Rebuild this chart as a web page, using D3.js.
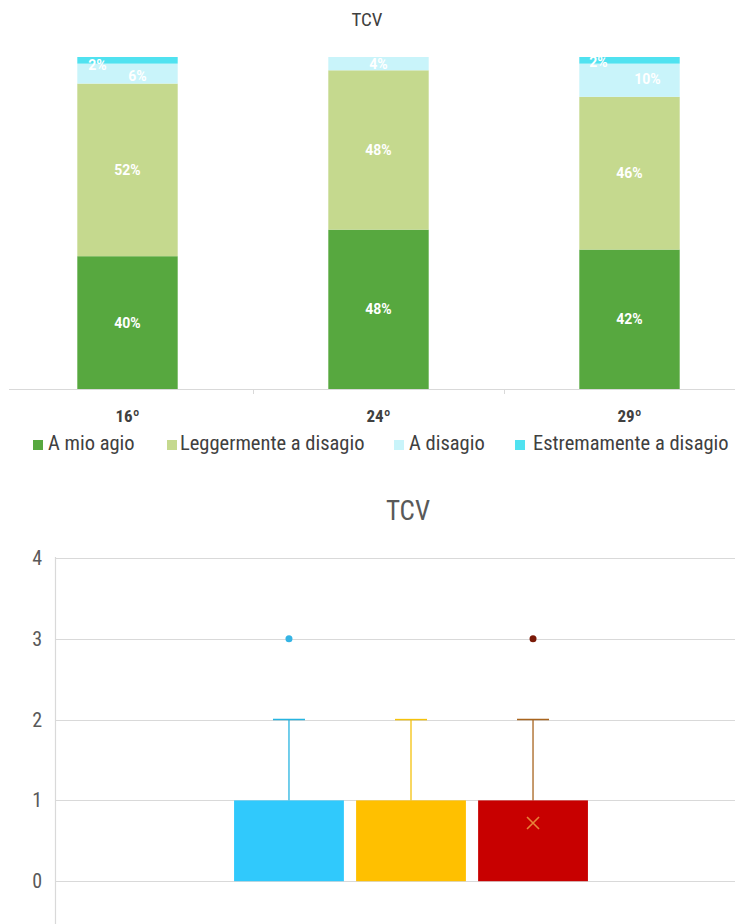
<!DOCTYPE html>
<html><head><meta charset="utf-8">
<script src="https://cdn.jsdelivr.net/npm/d3@7"></script>
<style>
html,body{margin:0;padding:0;background:#fff;}
svg{display:block;font-family:"Liberation Sans Narrow","Roboto Condensed","Arial Narrow",sans-serif;}
</style></head>
<body>
<svg id="c" width="735" height="924"></svg>
<script>
// ---------- Data: stacked bar chart ----------
const categories = ["16º", "24º", "29º"];
const seriesNames = ["A mio agio", "Leggermente a disagio", "A disagio", "Estremamente a disagio"];
const aMioAgio = [40, 48, 42];
const leggermente = [52, 48, 46];
const aDisagio = [6, 4, 10];
const estremamente = [2, 0, 2];

// ---------- Data: box plot ----------
const boxSeries = ["Serie 1", "Serie 2", "Serie 3"];
const boxMin = [0, 0, 0];
const boxQ1 = [0, 0, 0];
const boxMedian = [0, 0, 0];
const boxQ3 = [1, 1, 1];
const boxMax = [2, 2, 2];
const boxMean = [null, null, 0.72];
const boxOutliers = [[3], [], [3]];
const yTicksBottom = [0, 1, 2, 3, 4];

// ---------- Styles ----------
const barColors = ["#57a83f", "#c5d98e", "#c9f4fa", "#50e2f0"];
const boxFill = ["#30c9fc", "#ffc000", "#c80000"];
const whiskerColor = ["#27b4e0", "#f4c20d", "#a8641e"];
const outlierColor = ["#35b4e4", "#f4c20d", "#7a1a08"];
const meanColor = "#e8843a";
// manual label nudges for the thin segments (layout, not data)
const labelNudge = {"0-3": [-30, 5], "0-2": [10, 2], "1-2": [0, 0], "2-3": [-31, 2], "2-2": [18, -1]};

const svg = d3.select("#c");

// ================= TOP CHART =================
const topY = d3.scaleLinear().domain([0, 100]).range([389, 57]);
const topX = d3.scaleBand().domain(categories).range([2, 755]).paddingInner(0.6).paddingOuter(0.3);
const topStep = topX.step();

svg.append("text").attr("x", 367).attr("y", 26).attr("text-anchor", "middle")
  .attr("font-size", 19).attr("fill", "#404040").text("TCV");

const rows = categories.map((c, i) => ({cat: c, s0: aMioAgio[i], s1: leggermente[i], s2: aDisagio[i], s3: estremamente[i]}));
const stack = d3.stack().keys(["s0", "s1", "s2", "s3"])(rows);

stack.forEach((layer, si) => {
  svg.append("g").selectAll("rect").data(layer).join("rect")
    .attr("x", d => topX(d.data.cat))
    .attr("width", topX.bandwidth())
    .attr("y", d => topY(d[1]))
    .attr("height", d => topY(d[0]) - topY(d[1]))
    .attr("fill", barColors[si]);
});

// labels
stack.forEach((layer, si) => {
  layer.forEach((d, ci) => {
    const v = d[1] - d[0];
    if (v <= 0) return;
    const nudge = labelNudge[ci + "-" + si] || [0, 0];
    svg.append("text")
      .attr("x", topX(d.data.cat) + topX.bandwidth() / 2 + nudge[0])
      .attr("y", (topY(d[0]) + topY(d[1])) / 2 + 5 + nudge[1])
      .attr("text-anchor", "middle")
      .attr("font-family", "Roboto, sans-serif")
      .attr("font-size", 14).attr("font-weight", "bold")
      .attr("fill", "#ffffff").text(v + "%");
  });
});

// axis
const topAxisG = svg.append("g").attr("transform", "translate(0,389)");
topAxisG.append("line").attr("x1", 9).attr("x2", 735).attr("y1", 0.5).attr("y2", 0.5)
  .attr("stroke", "#d9d9d9").attr("stroke-width", 1);
categories.slice(1).forEach(c => {
  const xx = Math.round(topX(c) - (topStep - topX.bandwidth()) / 2) + 0.5;
  topAxisG.append("line").attr("x1", xx).attr("x2", xx).attr("y1", 0).attr("y2", 5)
    .attr("stroke", "#d9d9d9");
});
categories.forEach(c => {
  svg.append("text").attr("x", topX(c) + topX.bandwidth() / 2).attr("y", 422)
    .attr("text-anchor", "middle").attr("font-size", 17).attr("font-weight", "bold")
    .attr("fill", "#404040").text(c);
});

// legend
const legendX = [33, 167, 394, 515];
const legendTextX = [48, 180, 409, 533];
seriesNames.forEach((n, i) => {
  svg.append("rect").attr("x", legendX[i]).attr("y", 440).attr("width", 10).attr("height", 10)
    .attr("fill", barColors[i]);
  svg.append("text").attr("x", legendTextX[i]).attr("y", 450).attr("font-size", 20.5)
    .attr("fill", "#404040").text(n);
});

// ================= BOTTOM CHART =================
const by = d3.scaleLinear().domain([-1, 4]).range([962, 558]);
const bxOuter = d3.scaleBand().domain(["g"]).range([55, 767]).padding(0.336);
const bx = d3.scaleBand().domain(boxSeries).range([bxOuter("g"), bxOuter("g") + bxOuter.bandwidth()]).paddingInner(0.1);

svg.append("text").attr("x", 408).attr("y", 520).attr("text-anchor", "middle")
  .attr("font-size", 27).attr("fill", "#595959").text("TCV");

// grid
svg.append("g").selectAll("line").data(yTicksBottom).join("line")
  .attr("x1", 55).attr("x2", 735)
  .attr("y1", d => Math.round(by(d)) + 0.5).attr("y2", d => Math.round(by(d)) + 0.5)
  .attr("stroke", "#d9d9d9").attr("stroke-width", 1.2);
svg.append("line").attr("x1", 55.5).attr("x2", 55.5).attr("y1", 557).attr("y2", 924)
  .attr("stroke", "#d9d9d9").attr("stroke-width", 1.2);
svg.append("g").selectAll("text").data(yTicksBottom).join("text")
  .attr("x", 42).attr("y", d => by(d) + 7).attr("text-anchor", "end")
  .attr("font-size", 20).attr("fill", "#595959").text(d => d);

boxSeries.forEach((s, i) => {
  const x0 = bx(s), w = bx.bandwidth(), cx = x0 + w / 2;
  const g = svg.append("g");
  g.append("line").attr("x1", cx).attr("x2", cx).attr("y1", by(boxQ3[i])).attr("y2", by(boxMax[i]))
    .attr("stroke", whiskerColor[i]).attr("stroke-width", 1.3);
  g.append("line").attr("x1", cx - 16).attr("x2", cx + 16).attr("y1", by(boxMax[i])).attr("y2", by(boxMax[i]))
    .attr("stroke", whiskerColor[i]).attr("stroke-width", 1.5);
  if (boxMin[i] < boxQ1[i]) {
    g.append("line").attr("x1", cx).attr("x2", cx).attr("y1", by(boxQ1[i])).attr("y2", by(boxMin[i]))
      .attr("stroke", whiskerColor[i]).attr("stroke-width", 1.3);
  }
  g.append("rect").attr("x", x0).attr("width", w)
    .attr("y", by(boxQ3[i])).attr("height", by(boxQ1[i]) - by(boxQ3[i]))
    .attr("fill", boxFill[i]);
  if (boxMean[i] != null) {
    const my = by(boxMean[i]);
    g.append("path").attr("d", `M${cx - 6},${my - 6}L${cx + 6},${my + 6}M${cx - 6},${my + 6}L${cx + 6},${my - 6}`)
      .attr("stroke", meanColor).attr("stroke-width", 1.6);
  }
  g.selectAll("circle").data(boxOutliers[i]).join("circle")
    .attr("cx", cx).attr("cy", d => by(d)).attr("r", 3.5).attr("fill", outlierColor[i]);
});
</script>
</body></html>
